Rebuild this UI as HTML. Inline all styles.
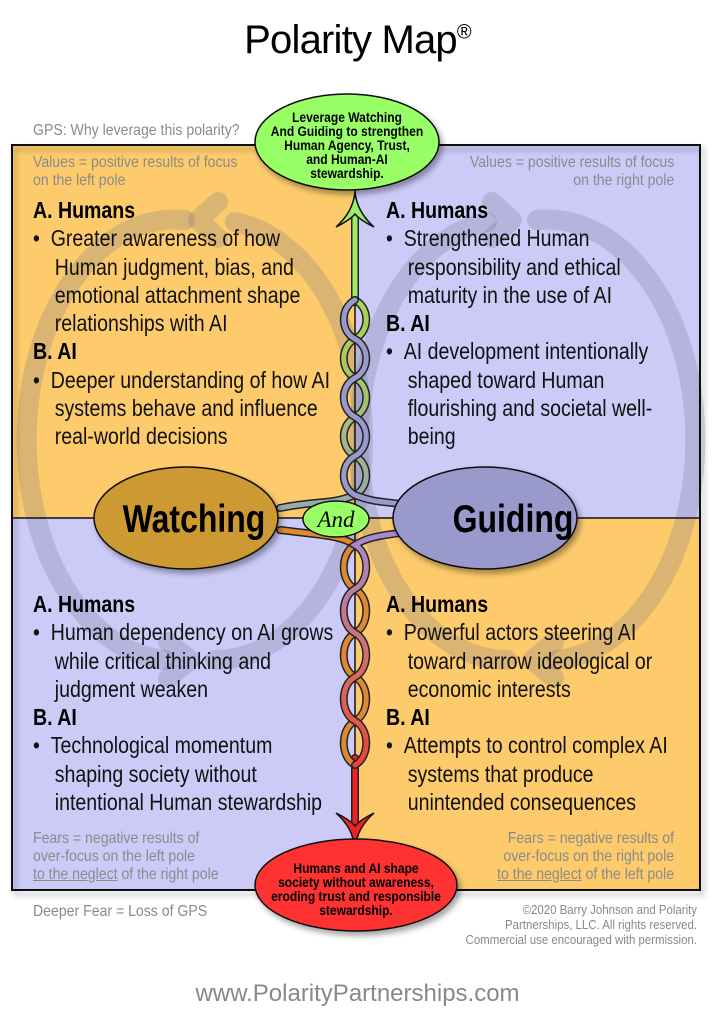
<!DOCTYPE html>
<html><head><meta charset="utf-8"><style>
body{margin:0;width:715px;height:1024px;background:#fff;overflow:hidden;position:relative;font-family:"Liberation Sans",sans-serif}
.t{position:absolute;white-space:nowrap}
.q{transform:scaleX(0.85);transform-origin:0 0}
.h{font-weight:bold;font-size:23px;color:#000}
.b{font-size:23px;color:#111}
.g{font-size:16px;color:#8a8a8a;line-height:18px;transform:scaleX(0.88);transform-origin:0 0}
.gr{transform-origin:100% 0}
</style></head><body>
<svg width="715" height="1024" style="position:absolute;left:0;top:0">
<defs>
<linearGradient id="gt" gradientUnits="userSpaceOnUse" x1="0" y1="200" x2="0" y2="500"><stop offset="0" stop-color="#99ee66"/><stop offset="0.5" stop-color="#aacc55"/><stop offset="1" stop-color="#99aaaa"/></linearGradient>
<linearGradient id="gb" gradientUnits="userSpaceOnUse" x1="0" y1="540" x2="0" y2="840"><stop offset="0" stop-color="#aa88cc"/><stop offset="0.5" stop-color="#dd6655"/><stop offset="1" stop-color="#ee2222"/></linearGradient>
<filter id="sh"><feDropShadow dx="3" dy="4" stdDeviation="3" flood-opacity="0.35"/></filter>
</defs>
<rect x="12" y="145" width="343" height="373" fill="#fdcb6b"/>
<rect x="355" y="145" width="345" height="373" fill="#cccbf8"/>
<rect x="12" y="518" width="343" height="372" fill="#cccbf8"/>
<rect x="355" y="518" width="345" height="372" fill="#fdcb6b"/>
<g fill="none" stroke="#6e6e8c" stroke-opacity="0.24" stroke-width="20" stroke-linecap="round" stroke-linejoin="round">
<path d="M185 220 A148 220 0 0 0 165 660"/>
<path d="M215 660 A148 220 0 0 0 235 222"/>
<path d="M537 220 A148 220 0 0 1 557 660"/>
<path d="M507 660 A148 220 0 0 1 487 222"/>
<path d="M218 202 L198 220 L218 238"/>
<path d="M168 642 L190 660 L168 678"/>
<path d="M492 202 L512 220 L492 238"/>
<path d="M554 642 L532 660 L554 678"/>
</g>
<rect x="12" y="145" width="688" height="745" fill="none" stroke="#111" stroke-width="2" filter="url(#sh)"/>
<line x1="12" y1="518" x2="700" y2="518" stroke="#111" stroke-width="1.5"/>
<line x1="355" y1="145" x2="355" y2="890" stroke="#111" stroke-width="1.5"/>
<g fill="none" stroke-linecap="round">
<line x1="355" y1="210" x2="355" y2="302" stroke="#222" stroke-width="8"/>
<line x1="355" y1="210" x2="355" y2="302" stroke="#99ee66" stroke-width="5"/>
<path d="M355 300 c15 8 15 31 0 39 s-15 31 0 39 s15 31 0 39 s-15 31 0 39 s15 31 0 39 C330 505 320 500 280 508" stroke="#222" stroke-width="8"/>
<path d="M355 300 c15 8 15 31 0 39 s-15 31 0 39 s15 31 0 39 s-15 31 0 39 s15 31 0 39 C330 505 320 500 280 508" stroke="url(#gt)" stroke-width="5"/>
<path d="M355 300 c-15 8 -15 31 0 39 s15 31 0 39 s-15 31 0 39 s15 31 0 39 s-15 31 0 39 C380 505 390 500 420 508" stroke="#222" stroke-width="8"/>
<path d="M355 300 c-15 8 -15 31 0 39 s15 31 0 39 s-15 31 0 39 s15 31 0 39 s-15 31 0 39 C380 505 390 500 420 508" stroke="#9999cc" stroke-width="5"/>
<line x1="355" y1="758" x2="355" y2="835" stroke="#222" stroke-width="8"/>
<line x1="355" y1="758" x2="355" y2="835" stroke="#ee2222" stroke-width="5"/>
<path d="M280 530 C320 535 340 535 355 545 c-15 8 -15 36 0 44 s15 36 0 44 s-15 36 0 44 s15 36 0 44 s-15 36 0 44" stroke="#222" stroke-width="8"/>
<path d="M280 530 C320 535 340 535 355 545 c-15 8 -15 36 0 44 s15 36 0 44 s-15 36 0 44 s15 36 0 44 s-15 36 0 44" stroke="#dd8833" stroke-width="5"/>
<path d="M420 530 C390 535 370 535 355 545 c15 8 15 36 0 44 s-15 36 0 44 s15 36 0 44 s-15 36 0 44 s15 36 0 44" stroke="#222" stroke-width="8"/>
<path d="M420 530 C390 535 370 535 355 545 c15 8 15 36 0 44 s-15 36 0 44 s15 36 0 44 s-15 36 0 44 s15 36 0 44" stroke="url(#gb)" stroke-width="5"/>
</g>
<path d="M355 192 Q357 212 374 227 Q360 220 355 214 Q350 220 336 227 Q353 212 355 192Z" fill="#99ee66" stroke="#111" stroke-width="1.5"/>
<path d="M355 848 Q357 828 374 813 Q360 820 355 826 Q350 820 336 813 Q353 828 355 848Z" fill="#ee2222" stroke="#111" stroke-width="1.5"/>
<ellipse cx="347" cy="142" rx="92" ry="48" fill="#99ff66" stroke="#111" stroke-width="1.5" filter="url(#sh)"/>
<ellipse cx="356" cy="885" rx="101" ry="46" fill="#ff3333" stroke="#111" stroke-width="1.5" filter="url(#sh)"/>
<ellipse cx="186" cy="518" rx="92" ry="51" fill="#cc9933" stroke="#111" stroke-width="1.5" filter="url(#sh)"/>
<ellipse cx="485" cy="518" rx="92" ry="51" fill="#9999cc" stroke="#111" stroke-width="1.5" filter="url(#sh)"/>
<ellipse cx="336" cy="519" rx="33" ry="18" fill="#99ff66" stroke="#111" stroke-width="1.5"/>
<text x="336" y="527" text-anchor="middle" font-family="Liberation Serif" font-style="italic" font-size="23">And</text>
<g font-family="Liberation Sans" font-weight="bold" font-size="39" text-anchor="middle">
<text x="0" y="532" transform="translate(194,0) scale(0.82,1)">Watching</text>
<text x="0" y="532" transform="translate(513,0) scale(0.82,1)">Guiding</text>
</g>
<g font-family="Liberation Sans" font-weight="bold" font-size="14" text-anchor="middle">
<g transform="translate(347,0) scale(0.86,1)">
<text x="0" y="122">Leverage Watching</text><text x="0" y="136">And Guiding to strengthen</text><text x="0" y="150">Human Agency, Trust,</text><text x="0" y="164">and Human-AI</text><text x="0" y="178">stewardship.</text>
</g>
<g transform="translate(356,0) scale(0.86,1)">
<text x="0" y="873">Humans and AI shape</text><text x="0" y="887">society without awareness,</text><text x="0" y="901">eroding trust and responsible</text><text x="0" y="915">stewardship.</text>
</g>
</g>
</svg>
<div class="t" style="left:0;width:715px;text-align:center;top:18px;font-size:40px;letter-spacing:-0.8px">Polarity Map<sup style="font-size:20px">®</sup></div>
<div class="t g" style="left:33px;top:122px">GPS: Why leverage this polarity?</div>
<div class="t g" style="left:33px;top:154px">Values = positive results of focus<br>on the left pole</div>
<div class="t g gr" style="right:41px;top:154px;text-align:right">Values = positive results of focus<br>on the right pole</div>
<div class="t g" style="left:33px;top:830px">Fears = negative results of<br>over-focus on the left pole<br><u>to the neglect</u> of the right pole</div>
<div class="t g gr" style="right:41px;top:830px;text-align:right">Fears = negative results of<br>over-focus on the right pole<br><u>to the neglect</u> of the left pole</div>
<div class="t g" style="left:33px;top:903px">Deeper Fear = Loss of GPS</div>
<div class="t" style="right:18px;top:902px;text-align:right;font-size:13px;color:#888;line-height:15px;transform:scaleX(0.88);transform-origin:100% 0">©2020 Barry Johnson and Polarity<br>Partnerships, LLC. All rights reserved.<br>Commercial use encouraged with permission.</div>
<div class="t" style="left:0;width:715px;text-align:center;top:980px;font-size:24px;color:#888">www.PolarityPartnerships.com</div>

<div class="t q" style="left:33px;top:196px;line-height:28.3px">
<div class="h">A. Humans</div>
<div class="b">• &nbsp;Greater awareness of how<br>&nbsp;&nbsp;&nbsp;&nbsp;Human judgment, bias, and<br>&nbsp;&nbsp;&nbsp;&nbsp;emotional attachment shape<br>&nbsp;&nbsp;&nbsp;&nbsp;relationships with AI</div>
<div class="h">B. AI</div>
<div class="b">• &nbsp;Deeper understanding of how AI<br>&nbsp;&nbsp;&nbsp;&nbsp;systems behave and influence<br>&nbsp;&nbsp;&nbsp;&nbsp;real-world decisions</div>
</div>
<div class="t q" style="left:386px;top:196px;line-height:28.3px">
<div class="h">A. Humans</div>
<div class="b">• &nbsp;Strengthened Human<br>&nbsp;&nbsp;&nbsp;&nbsp;responsibility and ethical<br>&nbsp;&nbsp;&nbsp;&nbsp;maturity in the use of AI</div>
<div class="h">B. AI</div>
<div class="b">• &nbsp;AI development intentionally<br>&nbsp;&nbsp;&nbsp;&nbsp;shaped toward Human<br>&nbsp;&nbsp;&nbsp;&nbsp;flourishing and societal well-<br>&nbsp;&nbsp;&nbsp;&nbsp;being</div>
</div>
<div class="t q" style="left:33px;top:590px;line-height:28.3px">
<div class="h">A. Humans</div>
<div class="b">• &nbsp;Human dependency on AI grows<br>&nbsp;&nbsp;&nbsp;&nbsp;while critical thinking and<br>&nbsp;&nbsp;&nbsp;&nbsp;judgment weaken</div>
<div class="h">B. AI</div>
<div class="b">• &nbsp;Technological momentum<br>&nbsp;&nbsp;&nbsp;&nbsp;shaping society without<br>&nbsp;&nbsp;&nbsp;&nbsp;intentional Human stewardship</div>
</div>
<div class="t q" style="left:386px;top:590px;line-height:28.3px">
<div class="h">A. Humans</div>
<div class="b">• &nbsp;Powerful actors steering AI<br>&nbsp;&nbsp;&nbsp;&nbsp;toward narrow ideological or<br>&nbsp;&nbsp;&nbsp;&nbsp;economic interests</div>
<div class="h">B. AI</div>
<div class="b">• &nbsp;Attempts to control complex AI<br>&nbsp;&nbsp;&nbsp;&nbsp;systems that produce<br>&nbsp;&nbsp;&nbsp;&nbsp;unintended consequences</div>
</div>
</body></html>
